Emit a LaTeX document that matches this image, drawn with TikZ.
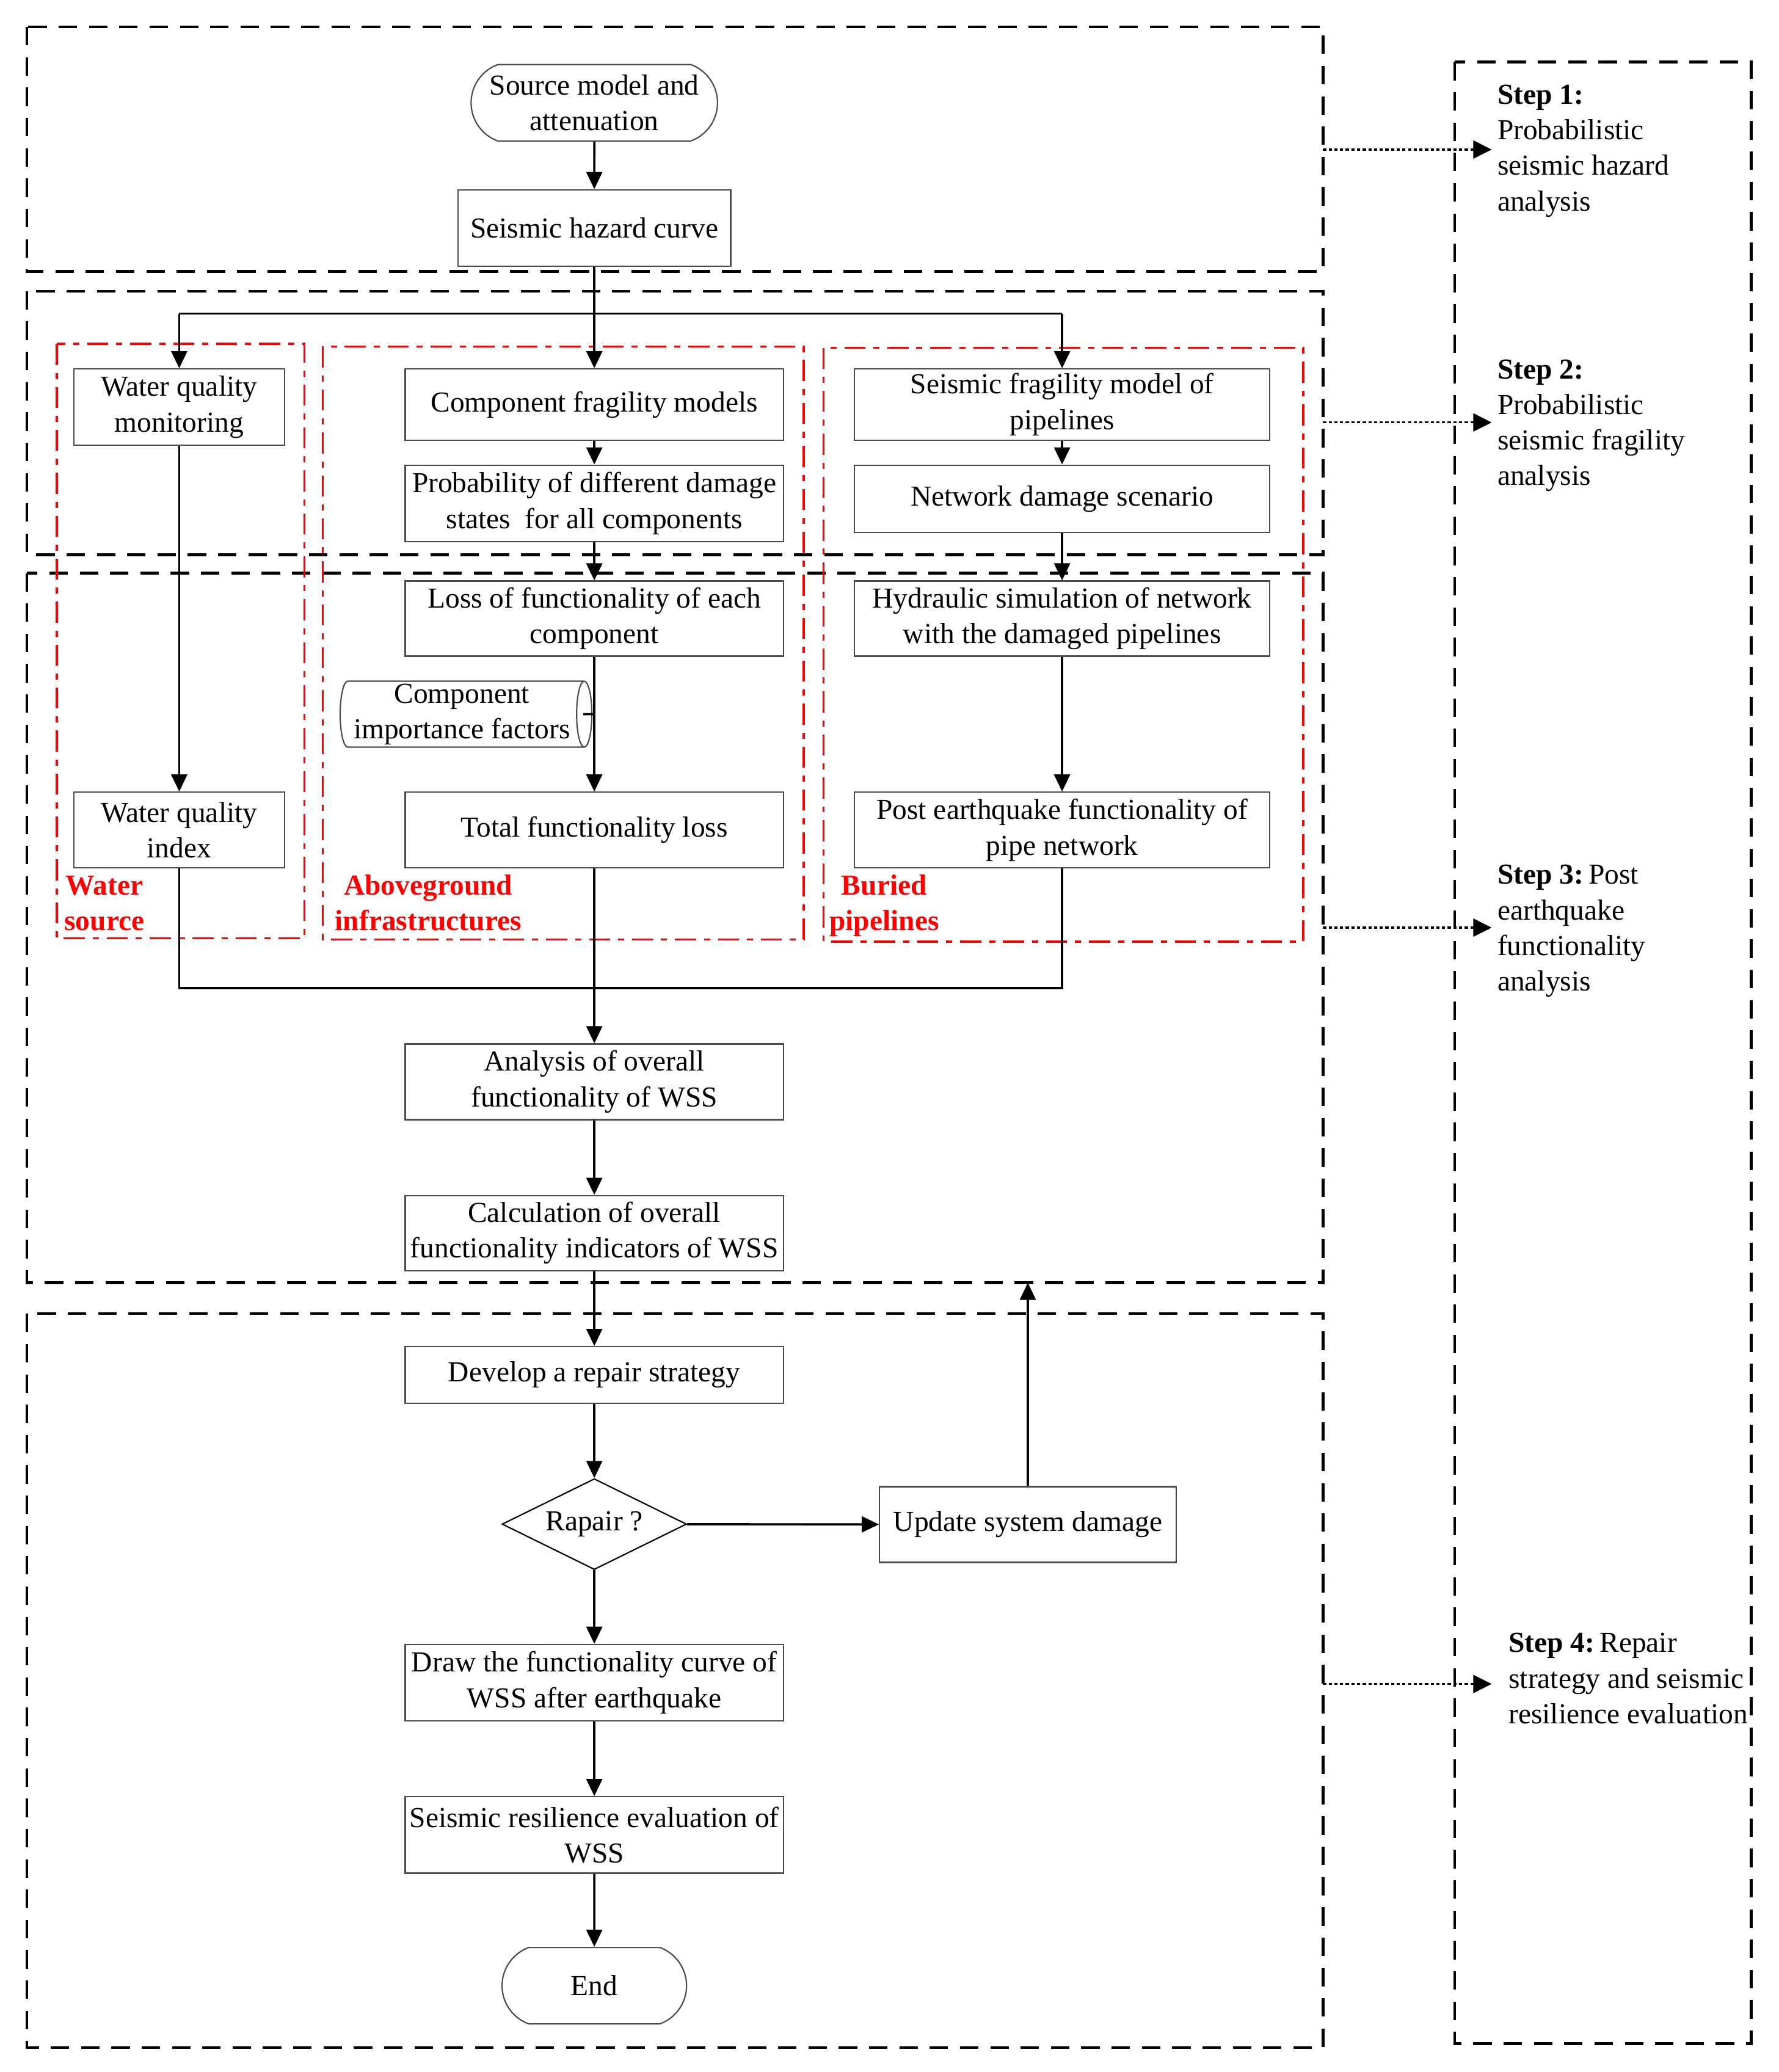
\documentclass[tikz,border=0pt]{standalone}
\usepackage{fontspec}
\setmainfont{Liberation Serif}
\usetikzlibrary{shapes.geometric,shapes.misc,arrows.meta}
\newcommand\myfs{\fontsize{11}{13.5}\selectfont}
\begin{document}
\begin{tikzpicture}[x=0.5pt,y=-0.5pt,
  every node/.style={font=\myfs},
  box/.style={draw=black!70,line width=0.5pt,rectangle,inner sep=0pt,align=center},
  wbox/.style={box,minimum width=143.5pt},
  pbox/.style={box,minimum width=157.5pt},
  term/.style={box,rounded rectangle,rounded rectangle arc length=140},
  arr/.style={line width=0.85pt,-{Triangle[length=6.5pt,width=6pt]}},
  conn/.style={line width=0.85pt},
  stepbox/.style={line width=1pt,dash pattern=on 7pt off 4.5pt},
  redbox/.style={draw=red,line width=0.8pt,dash pattern=on 8pt off 3pt on 2.3pt off 3pt},
  dotarr/.style={line width=0.8pt,dash pattern=on 1.2pt off 0.95pt,-{Triangle[length=7pt,width=6.8pt]}},
  redlab/.style={text=red,font=\myfs\bfseries,anchor=base,inner sep=0pt},
  steptxt/.style={anchor=base west,inner sep=0pt}]
\fill[white] (0,0) rectangle (1350,1572.5);
\useasboundingbox (0,0) rectangle (1350,1572.5);

% black dashed step frames
\draw[stepbox] (20.5,20.5) rectangle (1004,206);
\draw[stepbox] (20.5,221) rectangle (1004,421);
\draw[stepbox] (20.5,435) rectangle (1004,973.5);
\draw[stepbox] (20.5,997) rectangle (1004,1554);
\draw[stepbox] (1104,47) rectangle (1329,1551);

% red dash-dot groups
\draw[redbox] (43,261) rectangle (231,712);
\draw[redbox] (245,263) rectangle (610,713);
\draw[redbox] (625,264) rectangle (989,714.6);

% nodes
\node[term,minimum width=93.5pt,minimum height=29pt] (src) at (451,78) {Source model and\\attenuation};
\node[box,minimum width=103.5pt,minimum height=29pt] (haz) at (451,173) {Seismic hazard curve};
\node[box,minimum width=80pt,minimum height=29pt] (wqm) at (136,309) {Water quality\\monitoring};
\node[wbox,minimum height=27pt] (cfm) at (451,307) {Component fragility models};
\node[pbox,minimum height=27pt] (sfm) at (806,307) {Seismic fragility model of\\pipelines};
\node[wbox,minimum height=29pt] (pds) at (451,382) {Probability of different damage\\states~ for all components};
\node[pbox,minimum height=25.5pt] (nds) at (806,378.5) {Network damage scenario};
\node[wbox,minimum height=28.5pt] (lof) at (451,469.5) {Loss of functionality of each\\component};
\node[pbox,minimum height=28.5pt] (hyd) at (806,469.5) {Hydraulic simulation of network\\with the damaged pipelines};
\node[box,cylinder,aspect=0.25,minimum width=25pt,minimum height=95.5pt] (cif) at (350.5,542) {Component\\importance factors};
\node[box,minimum width=80pt,minimum height=28.75pt] (wqi) at (136,630) {Water quality\\index};
\node[wbox,minimum height=28.75pt] (tfl) at (451,630) {Total functionality loss};
\node[pbox,minimum height=28.75pt] (pef) at (806,630) {Post earthquake functionality of\\pipe network};
\node[wbox,minimum height=28.75pt] (ana) at (451,821) {Analysis of overall\\functionality of WSS};
\node[wbox,minimum height=28.5pt] (cal) at (451,935.8) {Calculation of overall\\functionality indicators of WSS};
\node[wbox,minimum height=21.5pt] (dev) at (451,1043.5) {Develop a repair strategy};
\node[box,diamond,aspect=2,minimum width=70pt,minimum height=34.5pt,draw=black] (rep) at (451,1156.7) {Rapair ?};
\node[box,minimum width=112.5pt,minimum height=28.75pt] (upd) at (780,1157) {Update system damage};
\node[wbox,minimum height=29pt] (drw) at (451,1277) {Draw the functionality curve of\\WSS after earthquake};
\node[wbox,minimum height=29pt] (ser) at (451,1392.6) {Seismic resilience evaluation of\\WSS};
\node[term,minimum width=70pt,minimum height=29pt] (end) at (451,1507) {End};

% red labels
\node[redlab,anchor=base west] (lw1) at (49.5,679) {Water};
\node[redlab,anchor=base west] (lw2) at (48.5,706) {source};
\node[redlab] (la1) at (325,679) {Aboveground};
\node[redlab] (la2) at (325,706) {infrastructures};
\node[redlab] (lb1) at (671,679) {Buried};
\node[redlab] (lb2) at (671,706) {pipelines};

% step texts
\node[steptxt] (s1a) at (1136,79) {\textbf{Step 1:}};
\node[steptxt] (s1b) at (1136,106) {Probabilistic};
\node[steptxt] (s1c) at (1136,133) {seismic hazard};
\node[steptxt] (s1d) at (1136,160) {analysis};
\node[steptxt] (s2a) at (1136,287.4) {\textbf{Step 2:}};
\node[steptxt] (s2b) at (1136,314.4) {Probabilistic};
\node[steptxt] (s2c) at (1136,341.4) {seismic fragility};
\node[steptxt] (s2d) at (1136,368.4) {analysis};
\node[steptxt] (s3a) at (1136,671) {\textbf{Step 3:}\,Post};
\node[steptxt] (s3b) at (1136,698) {earthquake};
\node[steptxt] (s3c) at (1136,725) {functionality};
\node[steptxt] (s3d) at (1136,752) {analysis};
\node[steptxt] (s4a) at (1144.5,1254) {\textbf{Step 4:}\,Repair};
\node[steptxt] (s4b) at (1144.5,1281) {strategy and seismic};
\node[steptxt] (s4c) at (1144.5,1308) {resilience evaluation};

% connectors
\coordinate (bL) at (136,238);
\coordinate (bM) at (451,238);
\coordinate (bR) at (806,238);
\draw[arr] (src) -- (haz);
\draw[conn] (haz.south) -- (bM);
\draw[conn] (bL) -- (bR);
\draw[arr] (bL) -- (wqm.north);
\draw[arr] (bM) -- (cfm.north);
\draw[arr] (bR) -- (sfm.north);
\draw[arr] (cfm) -- (pds);
\draw[arr] (sfm) -- (nds);
\draw[arr] (pds) -- (lof);
\draw[arr] (nds) -- (hyd);
\draw[arr] (wqm) -- (wqi);
\draw[arr] (lof) -- (tfl);
\draw[arr] (hyd) -- (pef);
\coordinate (tk) at (451,542);
\draw[conn] ([xshift=-3.5pt]cif.east) -- (tk);
\coordinate (mL) at (136,750);
\coordinate (mR) at (806,750);
\draw[conn] (wqi.south) -- (mL) -- (mR) -- (pef.south);
\draw[arr] (tfl) -- (ana);
\draw[arr] (ana) -- (cal);
\draw[arr] (cal) -- (dev);
\draw[arr] (dev) -- (rep);
\draw[arr] (rep) -- (upd);
\draw[arr] (rep) -- (drw);
\draw[arr] (drw) -- (ser);
\draw[arr] (ser) -- (end);
\coordinate (b3) at (780,973.5);
\draw[arr] (upd) -- (b3);

% dotted arrows to step descriptions
\coordinate (d1a) at (1004,113.5); \coordinate (d1b) at (1132,113.5);
\coordinate (d2a) at (1004,320.6); \coordinate (d2b) at (1132,320.6);
\coordinate (d3a) at (1004,704);   \coordinate (d3b) at (1132,704);
\coordinate (d4a) at (1004,1278);  \coordinate (d4b) at (1132,1278);
\draw[dotarr] (d1a) -- (d1b);
\draw[dotarr] (d2a) -- (d2b);
\draw[dotarr] (d3a) -- (d3b);
\draw[dotarr] (d4a) -- (d4b);
\end{tikzpicture}
\end{document}
